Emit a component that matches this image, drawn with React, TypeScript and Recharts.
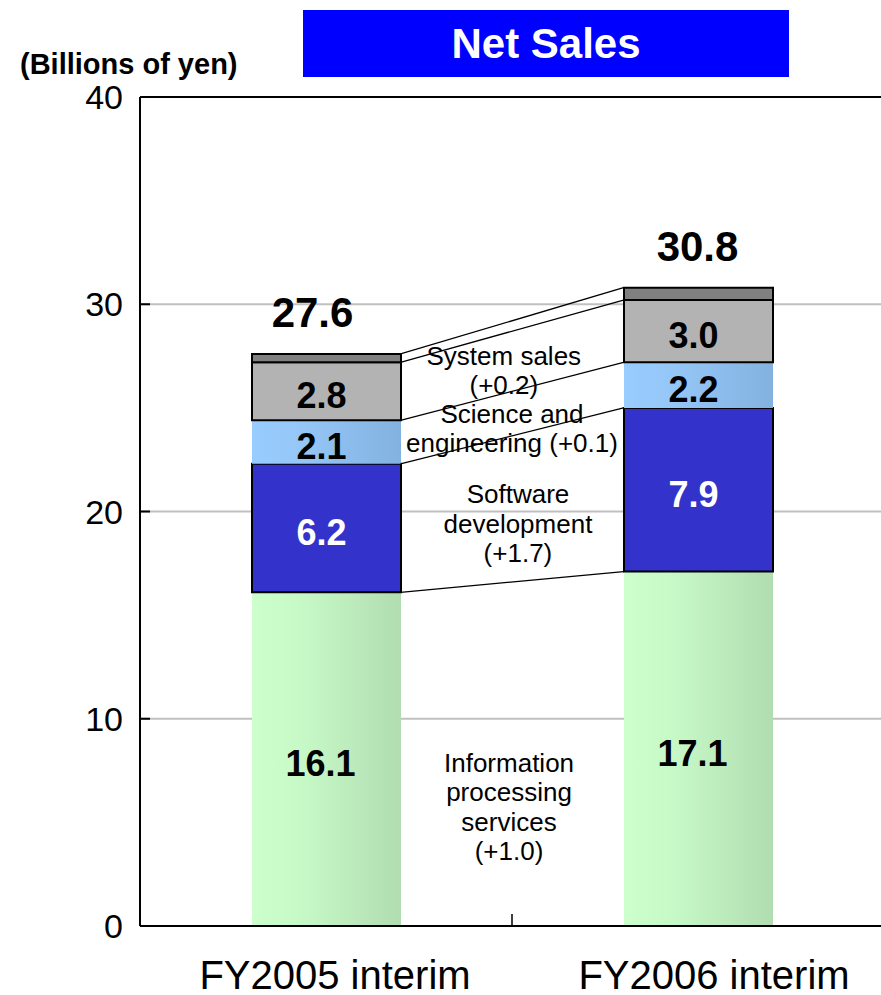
import React from 'react';
import {
  ComposedChart,
  Bar,
  XAxis,
  YAxis,
  CartesianGrid,
  ReferenceLine,
  ReferenceDot,
  LabelList,
} from 'recharts';

// ---- data (billions of yen) ----
const categories = ['FY2005 interim', 'FY2006 interim'];
const infoProcessing = [16.1, 17.1];
const softwareDev = [6.2, 7.9];
const scienceEng = [2.1, 2.2];
const systemSales = [2.8, 3.0];
const totals = [27.6, 30.8];
const yTicks = [0, 10, 20, 30, 40];

const segmentNotes = [
  ['System sales', '(+0.2)'],
  ['Science and', 'engineering (+0.1)'],
  ['Software', 'development', '(+1.7)'],
  ['Information', 'processing', 'services', '(+1.0)'],
];

// ---- layout ----
const FONT = '"Liberation Sans", Arial, Helvetica, sans-serif';
const CHART_W = 884;
const CHART_H = 995;
const MARGIN = { top: 97, right: 0, bottom: 0, left: 0 };
const Y_AXIS_W = 140;
const X_AXIS_H = 69;
const BAR_SIZE = 149;
const PLOT_W = CHART_W - MARGIN.left - MARGIN.right - Y_AXIS_W;
const BAND = PLOT_W / categories.length;
const HALF_BAR = BAR_SIZE / 2 / BAND; // half a bar, in category units
const catPos = categories.map((_, i) => i + 0.5); // category centres on the x scale
const xTickLabelShift = [9, 16];

// anchor of each note (x in category units, y in yen)
const notePositions = [
  { x: 0.978, y: 26.8 },
  { x: 1.0, y: 24.0 },
  { x: 1.016, y: 19.4 },
  { x: 0.992, y: 5.75 },
];

const rows = categories.map((name, i) => {
  const partial = infoProcessing[i] + softwareDev[i] + scienceEng[i] + systemSales[i];
  return {
    name,
    pos: catPos[i],
    info: infoProcessing[i],
    soft: softwareDev[i],
    sci: scienceEng[i],
    sys: systemSales[i],
    other: Math.round((totals[i] - partial) * 10) / 10,
    total: totals[i],
  };
});

// cumulative stack boundaries, used for the connector lines
const boundaries = rows.map((r) => {
  const a = r.info;
  const b = a + r.soft;
  const c = b + r.sci;
  const d = c + r.sys;
  const e = d + r.other;
  return [a, b, c, d, e];
});

const segLabel = (color: string, size: number, dx: number) => (p: any) => {
  const { x, y, width, height, value } = p;
  if (value == null) return null;
  return (
    <text
      x={Number(x) + Number(width) / 2 + dx}
      y={Number(y) + Number(height) / 2}
      dy={size * 0.36 + 4}
      textAnchor="middle"
      fontSize={size}
      fontWeight="bold"
      fill={color}
      fontFamily={FONT}
    >
      {Number(value).toFixed(1)}
    </text>
  );
};

const totalLabel = (p: any) => {
  const { x, y, width, value, index } = p;
  const shift = index === 0 ? -14 : -1;
  return (
    <text
      x={Number(x) + Number(width) / 2 + shift}
      y={Number(y) - 42}
      dy={42 * 0.36}
      textAnchor="middle"
      fontSize={42}
      fontWeight="bold"
      fill="#000"
      fontFamily={FONT}
    >
      {Number(value).toFixed(1)}
    </text>
  );
};

const YTick = (p: any) => {
  const { x, y, payload } = p;
  return (
    <g>
      <line x1={x + 17} x2={x + 27} y1={y} y2={y} stroke="#000" strokeWidth={2} />
      <text x={x} y={y} dy={12} textAnchor="end" fontSize={34} fill="#000" fontFamily={FONT}>
        {payload.value}
      </text>
    </g>
  );
};

const XTick = (p: any) => {
  const { x, y, payload, index } = p;
  const i = catPos.indexOf(payload.value);
  const label = i >= 0 ? categories[i] : '';
  return (
    <text
      x={x + (xTickLabelShift[i] ?? 0)}
      y={y}
      dy={28}
      textAnchor="middle"
      fontSize={40}
      fill="#000"
      fontFamily={FONT}
      data-index={index}
    >
      {label}
    </text>
  );
};

const NoteLabel = (p: any) => {
  const { viewBox, lines } = p;
  if (!viewBox) return null;
  const cx = viewBox.x + (viewBox.width || 0) / 2;
  const cy = viewBox.y + (viewBox.height || 0) / 2;
  const lh = 29.5;
  const start = cy - ((lines.length - 1) * lh) / 2;
  return (
    <text textAnchor="middle" fontSize={26} fontFamily={FONT} fill="#000">
      {lines.map((l: string, i: number) => (
        <tspan key={i} x={cx} y={start + i * lh + 9}>
          {l}
        </tspan>
      ))}
    </text>
  );
};

const MidTick = (p: any) => {
  const x = p.x1;
  const yb = Math.max(p.y1, p.y2);
  return <line x1={x} x2={x} y1={yb} y2={yb - 12} stroke="#000" strokeWidth={1.5} />;
};

export default function App() {
  return (
    <div
      style={{
        position: 'absolute',
        left: 0,
        top: 0,
        width: 881,
        height: 995,
        overflow: 'hidden',
        background: '#fff',
        fontFamily: FONT,
      }}
    >
      <div
        style={{
          position: 'absolute',
          left: 303,
          top: 10,
          width: 486,
          height: 67,
          background: '#0000ff',
          color: '#fff',
          fontWeight: 'bold',
          fontSize: 42,
          lineHeight: '67px',
          textAlign: 'center',
        }}
      >
        Net Sales
      </div>
      <div
        style={{
          position: 'absolute',
          left: 20,
          top: 50,
          height: 28,
          lineHeight: '28px',
          fontWeight: 'bold',
          fontSize: 29,
          color: '#000',
          whiteSpace: 'nowrap',
        }}
      >
        (Billions of yen)
      </div>
      <ComposedChart width={CHART_W} height={CHART_H} data={rows} margin={MARGIN}>
        <defs>
          <linearGradient id="gradGreen" x1="0" y1="0" x2="1" y2="0">
            <stop offset="0" stopColor="#ccffcc" />
            <stop offset="0.3" stopColor="#c8fac8" />
            <stop offset="1" stopColor="#b1ddb1" />
          </linearGradient>
          <linearGradient id="gradSky" x1="0" y1="0" x2="1" y2="0">
            <stop offset="0" stopColor="#99ccff" />
            <stop offset="0.3" stopColor="#95c7f8" />
            <stop offset="1" stopColor="#83b2df" />
          </linearGradient>
        </defs>
        <CartesianGrid vertical={false} stroke="#c0c0c0" strokeWidth={2} />
        <XAxis
          dataKey="pos"
          type="number"
          domain={[0, categories.length]}
          allowDataOverflow
          ticks={catPos}
          height={X_AXIS_H}
          tickLine={false}
          tickSize={0}
          tickMargin={35}
          axisLine={{ stroke: '#000', strokeWidth: 2 }}
          tick={<XTick />}
          interval={0}
        />
        <YAxis
          width={Y_AXIS_W}
          domain={[0, 40]}
          ticks={yTicks}
          allowDataOverflow
          tickLine={false}
          tickSize={0}
          tickMargin={17}
          axisLine={{ stroke: '#000', strokeWidth: 2 }}
          tick={<YTick />}
          interval={0}
        />
        <ReferenceLine y={40} stroke="#000" strokeWidth={2} />
        <ReferenceLine x={1} shape={<MidTick />} />

        <Bar dataKey="info" stackId="s" barSize={BAR_SIZE} fill="url(#gradGreen)" isAnimationActive={false}>
          <LabelList dataKey="info" content={segLabel('#000', 36, -6)} />
        </Bar>
        <Bar dataKey="soft" stackId="s" barSize={BAR_SIZE} fill="#3333cc" stroke="#000" strokeWidth={2} isAnimationActive={false}>
          <LabelList dataKey="soft" content={segLabel('#fff', 36, -5)} />
        </Bar>
        <Bar dataKey="sci" stackId="s" barSize={BAR_SIZE} fill="url(#gradSky)" isAnimationActive={false}>
          <LabelList dataKey="sci" content={segLabel('#000', 36, -5)} />
        </Bar>
        <Bar dataKey="sys" stackId="s" barSize={BAR_SIZE} fill="#b3b3b3" stroke="#000" strokeWidth={2} isAnimationActive={false}>
          <LabelList dataKey="sys" content={segLabel('#000', 36, -5)} />
        </Bar>
        <Bar dataKey="other" stackId="s" barSize={BAR_SIZE} fill="#808080" stroke="#000" strokeWidth={2} isAnimationActive={false}>
          <LabelList dataKey="total" content={totalLabel} />
        </Bar>

        {boundaries[0].map((v, k) => (
          <ReferenceLine
            key={`conn-${k}`}
            segment={[
              { x: catPos[0] + HALF_BAR, y: v },
              { x: catPos[1] - HALF_BAR, y: boundaries[1][k] },
            ]}
            stroke="#000"
            strokeWidth={1.3}
          />
        ))}

        {segmentNotes.map((lines, i) => (
          <ReferenceDot
            key={`note-${i}`}
            x={notePositions[i].x}
            y={notePositions[i].y}
            r={1}
            fill="none"
            stroke="none"
            label={<NoteLabel lines={lines} />}
          />
        ))}
      </ComposedChart>
    </div>
  );
}
